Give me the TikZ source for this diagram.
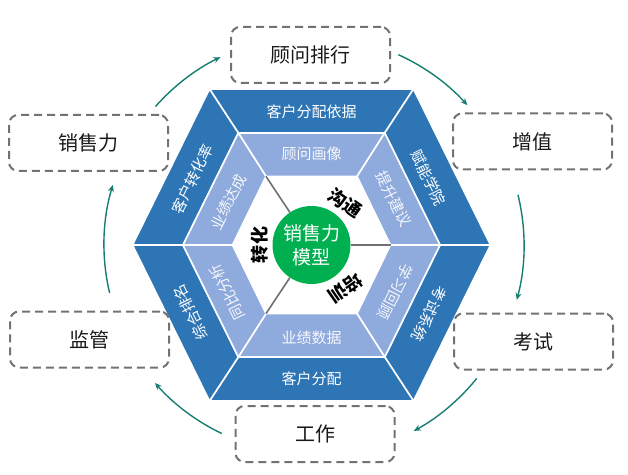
\documentclass[tikz,border=0pt]{standalone}
\usepackage{fontspec}
\setmainfont{Noto Sans CJK SC}
\usetikzlibrary{arrows.meta,calc}
\definecolor{darkb}{HTML}{2E75B6}
\definecolor{lightb}{HTML}{8FAADC}
\definecolor{coregreen}{HTML}{00B050}
\definecolor{boxgray}{HTML}{767171}
\definecolor{teal}{HTML}{167E70}
\definecolor{divgray}{HTML}{707070}
\begin{document}
\begin{tikzpicture}[x=1pt,y=1pt,
  darkseg/.style={fill=darkb,draw=white,line width=1.6pt,line join=round},
  lightseg/.style={fill=lightb,draw=white,line width=1.6pt,line join=round},
  darktxt/.style={text=white,font=\fontsize{15}{18}\selectfont,inner sep=0pt},
  lighttxt/.style={text=white!92!lightb,font=\fontsize{15}{18}\selectfont,inner sep=0pt},
  innertxt/.style={text=black,font=\fontsize{18}{20}\selectfont\bfseries,inner sep=0pt},
  dbox/.style={draw=boxgray,line width=2pt,dash pattern=on 8pt off 5pt,rounded corners=9pt,
    minimum width=159pt,minimum height=56pt,inner sep=0pt,font=\fontsize{20}{24}\selectfont,text=black!90},
  arr/.style={draw=teal,line width=1.4pt,-{Stealth[length=7pt,width=6pt]}},
  divline/.style={draw=divgray,line width=1.6pt}
]
\useasboundingbox (0,0) rectangle (628,474);
\begin{scope}[shift={(311.5,229)}]
  % outer
  \coordinate (O1) at (102,156);  \coordinate (O2) at (179,0);
  \coordinate (O3) at (102,-156); \coordinate (O4) at (-102,-156);
  \coordinate (O5) at (-179,0);   \coordinate (O6) at (-102,156);
  % middle
  \coordinate (M1) at (73.2,112);  \coordinate (M2) at (128.5,0);
  \coordinate (M3) at (73.2,-112); \coordinate (M4) at (-73.2,-112);
  \coordinate (M5) at (-128.5,0);  \coordinate (M6) at (-73.2,112);
  % inner
  \coordinate (I1) at (45.5,68.6);  \coordinate (I2) at (79,0);
  \coordinate (I3) at (45.5,-68.6); \coordinate (I4) at (-45.5,-68.6);
  \coordinate (I5) at (-79,0);      \coordinate (I6) at (-45.5,68.6);
  % dark segments
  \path[darkseg] (O6) -- (O1) -- (M1) -- (M6) -- cycle;
  \path[darkseg] (O1) -- (O2) -- (M2) -- (M1) -- cycle;
  \path[darkseg] (O2) -- (O3) -- (M3) -- (M2) -- cycle;
  \path[darkseg] (O3) -- (O4) -- (M4) -- (M3) -- cycle;
  \path[darkseg] (O4) -- (O5) -- (M5) -- (M4) -- cycle;
  \path[darkseg] (O5) -- (O6) -- (M6) -- (M5) -- cycle;
  % light segments
  \path[lightseg] (M6) -- (M1) -- (I1) -- (I6) -- cycle;
  \path[lightseg] (M1) -- (M2) -- (I2) -- (I1) -- cycle;
  \path[lightseg] (M2) -- (M3) -- (I3) -- (I2) -- cycle;
  \path[lightseg] (M3) -- (M4) -- (I4) -- (I3) -- cycle;
  \path[lightseg] (M4) -- (M5) -- (I5) -- (I4) -- cycle;
  \path[lightseg] (M5) -- (M6) -- (I6) -- (I5) -- cycle;
  % core
  \node[circle,fill=coregreen,minimum size=78pt,inner sep=0pt,text=white,align=center,
        font=\fontsize{19}{24}\selectfont] (core) at (0,0) {销售力\\模型};
  \draw[divline] (I6) -- (core);
  \draw[divline] (I2) -- (core);
  \draw[divline] (I4) -- (core);
  % dark texts
  \node[darktxt] (t1) at (0,133) {客户分配依据};
  \node[darktxt] (t2) at (0,-134) {客户分配};
  \node[darktxt,rotate=63.7] (t3) at (-119,66) {客户转化率};
  \node[darktxt,rotate=-63.7] (t4) at (117,67) {赋能学院};
  \node[darktxt,rotate=116.3] (t5) at (-121,-67) {综合排名};
  \node[darktxt,rotate=-116.3] (t6) at (118,-69) {考试系统};
  % light texts
  \node[lighttxt] (l1) at (0,91) {顾问画像};
  \node[lighttxt] (l2) at (0,-93) {业绩数据};
  \node[lighttxt,rotate=63.7] (l3) at (-83,43) {业绩达成};
  \node[lighttxt,rotate=-63.7] (l4) at (82,46) {提升建议};
  \node[lighttxt,rotate=116.3] (l5) at (-84,-47) {同比分析};
  \node[lighttxt,rotate=-116.3] (l6) at (84,-47) {学习回顾};
  % inner texts
  \node[innertxt,rotate=-35] (n1) at (34,42) {沟通};
  \node[innertxt,rotate=-145] (n2) at (34,-43) {培训};
  \node[innertxt,rotate=90] (n3) at (-52,0) {转化};
\end{scope}
% outer boxes
\node[dbox] (b1) at (310.5,419) {顾问排行};
\node[dbox] (b2) at (532.5,332.5) {增值};
\node[dbox] (b3) at (533.5,132.5) {考试};
\node[dbox] (b4) at (315,40) {工作};
\node[dbox] (b5) at (89.5,134.5) {监管};
\node[dbox] (b6) at (88.5,331) {销售力};
% arrows around
\coordinate (rc) at (312,229);
\coordinate (a1s) at ([shift={(138.5:209)}]rc);
\coordinate (a2s) at ([shift={(65.6:209)}]rc);
\coordinate (a3s) at ([shift={(13.7:212)}]rc);
\coordinate (a4s) at ([shift={(-39:212)}]rc);
\coordinate (a5s) at ([shift={(244.4:209)}]rc);
\coordinate (a6s) at ([shift={(193.3:208)}]rc);
\draw[arr] (a1s) arc[start angle=138.5,end angle=116,radius=209pt];
\draw[arr] (a2s) arc[start angle=65.6,end angle=42,radius=209pt];
\draw[arr] (a3s) arc[start angle=13.7,end angle=-15,radius=212pt];
\draw[arr] (a4s) arc[start angle=-39,end angle=-61.3,radius=212pt];
\draw[arr] (a5s) arc[start angle=244.4,end angle=221.3,radius=209pt];
\draw[arr] (a6s) arc[start angle=193.3,end angle=163.2,radius=208pt];
\end{tikzpicture}
\end{document}
